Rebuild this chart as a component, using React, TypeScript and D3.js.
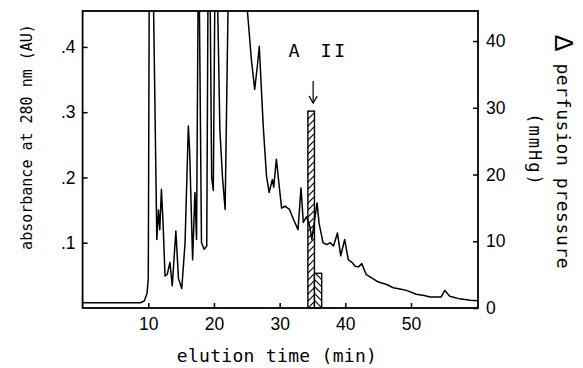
import React, { useRef, useEffect } from 'react';
import * as d3 from 'd3';

// elution trace (time in min, absorbance in AU; 0.5 = off scale)
const elutionTime = [
  0, 8.8, 9.4, 9.8, 10.0, 10.15, 10.75, 11.3, 11.55, 11.75, 12.0, 12.25, 12.55, 12.9, 13.3,
  13.65, 14.2, 14.6, 15.1, 15.6, 16.1, 16.3, 16.75, 17.1, 17.35, 17.6, 17.75, 18.1, 18.5,
  18.9, 19.1, 19.4, 19.65, 19.9, 20.15, 20.5, 20.9, 21.3, 21.7, 22.2, 24.7, 25.2, 25.7,
  26.2, 26.6, 26.9, 27.1, 27.5, 28.0, 28.4, 28.9, 29.1, 29.5, 29.9, 30.3, 30.8, 31.5,
  32.1, 32.8, 33.25, 33.6, 34.1, 34.6, 34.9, 35.4, 35.7, 36.0, 36.6, 37.2, 37.7, 38.2,
  38.8, 39.3, 39.9, 40.45, 41.0, 41.5, 42.0, 42.5, 43.2, 44.0, 44.8, 45.3, 46.3, 47.3,
  48.3, 49.3, 50.8, 52.0, 52.9, 54.6, 55.15, 55.9, 57.4, 59.0, 60.2
];
const absorbance = [
  0.008, 0.008, 0.011, 0.022, 0.045, 0.5, 0.5, 0.105, 0.15, 0.12, 0.182, 0.13, 0.049, 0.052, 0.07,
  0.034, 0.118, 0.045, 0.03, 0.1, 0.279, 0.24, 0.074, 0.177, 0.105, 0.5, 0.5, 0.1, 0.09,
  0.095, 0.5, 0.5, 0.2, 0.18, 0.5, 0.5, 0.273, 0.2, 0.151, 0.5, 0.5, 0.442, 0.38,
  0.335, 0.37, 0.401, 0.36, 0.279, 0.202, 0.177, 0.197, 0.185, 0.228, 0.19, 0.153, 0.156, 0.151,
  0.136, 0.12, 0.184, 0.131, 0.14, 0.125, 0.105, 0.14, 0.161, 0.13, 0.1, 0.097, 0.1, 0.095,
  0.115, 0.08, 0.105, 0.074, 0.07, 0.064, 0.063, 0.068, 0.051, 0.046, 0.041, 0.039, 0.036, 0.031,
  0.029, 0.027, 0.021, 0.019, 0.017, 0.017, 0.027, 0.018, 0.014, 0.012, 0.011
];

// perfusion pressure response (bars)
const pressureStart = [34.3, 35.3];
const pressureEnd = [35.3, 36.4];
const pressureValue = [29.5, 5.2];
const pressureHatch = ['hatchUp', 'hatchDown'];

const xTicks = [10, 20, 30, 40, 50];
const leftTicks = [0.1, 0.2, 0.3, 0.4];
const rightTicks = [0, 10, 20, 30, 40];

const markerLabel = ['A', 'II'];
const markerTime = 35.1;

export default function App() {
  const svgRef = useRef<SVGSVGElement>(null);

  useEffect(() => {
    const svg = d3.select(svgRef.current);
    svg.selectAll('.chart').remove();

    const w = 583;
    const h = 368;
    const margin = { top: 11, right: 105, bottom: 60, left: 82.6 };
    const tickFont = '"Liberation Sans", Arial, sans-serif';
    const monoFont = '"DejaVu Sans Mono", "Liberation Mono", monospace';

    const x = d3.scaleLinear().domain([0, 60.2]).range([margin.left, w - margin.right]);
    const yL = d3.scaleLinear().domain([0, 0.455]).range([h - margin.bottom, margin.top]);
    const yR = d3.scaleLinear().domain([0, 44.5]).range([h - margin.bottom, margin.top]);

    const g = svg.append('g').attr('class', 'chart');

    g.append('clipPath')
      .attr('id', 'plotClip')
      .append('rect')
      .attr('x', margin.left)
      .attr('y', margin.top)
      .attr('width', w - margin.left - margin.right)
      .attr('height', h - margin.top - margin.bottom);

    // bars
    g.selectAll('rect.bar')
      .data(pressureValue)
      .enter()
      .append('rect')
      .attr('class', 'bar')
      .attr('x', (d, i) => x(pressureStart[i]))
      .attr('width', (d, i) => x(pressureEnd[i]) - x(pressureStart[i]))
      .attr('y', d => yR(d))
      .attr('height', d => yR(0) - yR(d))
      .attr('fill', (d, i) => `url(#${pressureHatch[i]})`)
      .attr('stroke', 'black')
      .attr('stroke-width', 1.4);

    // trace
    const line = d3.line<number>()
      .x((d, i) => x(elutionTime[i]))
      .y(d => yL(d));

    g.append('path')
      .datum(absorbance)
      .attr('clip-path', 'url(#plotClip)')
      .attr('fill', 'none')
      .attr('stroke', 'black')
      .attr('stroke-width', 1.5)
      .attr('stroke-linejoin', 'round')
      .attr('d', line);

    // frame
    g.append('rect')
      .attr('x', margin.left)
      .attr('y', margin.top)
      .attr('width', w - margin.left - margin.right)
      .attr('height', h - margin.top - margin.bottom)
      .attr('fill', 'none')
      .attr('stroke', 'black')
      .attr('stroke-width', 1.8);

    // axes
    const xAxis = g.append('g')
      .attr('transform', `translate(0, ${h - margin.bottom})`)
      .call(d3.axisBottom(x).tickValues(xTicks).tickSizeInner(-5).tickSizeOuter(0).tickPadding(10));

    const leftAxis = g.append('g')
      .attr('transform', `translate(${margin.left}, 0)`)
      .call(d3.axisLeft(yL).tickValues(leftTicks).tickSizeInner(-5).tickSizeOuter(0).tickPadding(7)
        .tickFormat(d => '.' + Math.round(+d * 10)));

    const rightAxis = g.append('g')
      .attr('transform', `translate(${w - margin.right}, 0)`)
      .call(d3.axisRight(yR).tickValues(rightTicks).tickSizeInner(-5).tickSizeOuter(0).tickPadding(8));

    [xAxis, leftAxis, rightAxis].forEach(a => {
      a.select('.domain').remove();
      a.selectAll('line').attr('stroke-width', 1.5);
      a.selectAll('text')
        .attr('font-family', tickFont)
        .attr('font-size', '17.5px')
        .attr('fill', 'black');
    });

    // A II marker
    const ax = x(markerTime);
    const tipY = yR(pressureValue[0]) - 8;
    g.append('line')
      .attr('x1', ax).attr('x2', ax)
      .attr('y1', tipY - 22).attr('y2', tipY)
      .attr('stroke', 'black').attr('stroke-width', 1.2);
    g.append('path')
      .attr('d', `M${ax - 4},${tipY - 7} L${ax},${tipY} L${ax + 4},${tipY - 7}`)
      .attr('fill', 'none').attr('stroke', 'black').attr('stroke-width', 1.2);
    g.append('text')
      .attr('x', ax - 19)
      .attr('y', 57)
      .attr('text-anchor', 'middle')
      .attr('font-family', monoFont)
      .attr('font-size', '18.5px')
      .text(markerLabel[0]);
    g.append('text')
      .attr('x', ax + 21)
      .attr('y', 57)
      .attr('text-anchor', 'middle')
      .attr('font-family', monoFont)
      .attr('font-size', '18.5px')
      .attr('letter-spacing', '2.5px')
      .text(markerLabel[1]);

    // axis titles
    g.append('text')
      .attr('x', 277)
      .attr('y', 355)
      .attr('text-anchor', 'middle')
      .attr('dominant-baseline', 'central')
      .attr('font-family', monoFont)
      .attr('font-size', '18px')
      .attr('letter-spacing', '0.3px')
      .text('elution time (min)');

    g.append('text')
      .attr('transform', 'translate(27, 137) rotate(-90)')
      .attr('text-anchor', 'middle')
      .attr('dominant-baseline', 'central')
      .attr('font-family', monoFont)
      .attr('font-size', '15px')
      .text('absorbance at 280 nm (AU)');

    const rt = g.append('g').attr('transform', 'translate(564, 152) rotate(90)');
    const main = rt.append('text')
      .attr('text-anchor', 'middle')
      .attr('dominant-baseline', 'central')
      .attr('font-family', monoFont)
      .attr('font-size', '18px')
      .attr('letter-spacing', '0.6px');
    main.append('tspan').attr('font-size', '25px').attr('font-family', tickFont).text('\u0394');
    main.append('tspan').text(' perfusion pressure');
    rt.append('text')
      .attr('x', -2)
      .attr('y', 29)
      .attr('text-anchor', 'middle')
      .attr('dominant-baseline', 'central')
      .attr('font-family', monoFont)
      .attr('font-size', '17px')
      .attr('letter-spacing', '2px')
      .text('(mmHg)');
  }, []);

  return (
    <svg ref={svgRef} width={583} height={368}
      style={{ position: 'absolute', left: 0, top: 0, background: 'white' }}>
      <defs>
        <pattern id="hatchUp" patternUnits="userSpaceOnUse" width={7} height={7}>
          <rect width={7} height={7} fill="white" />
          <path d="M0,7 L7,0 M-1,1 L1,-1 M6,8 L8,6" stroke="black" strokeWidth={1.2} />
        </pattern>
        <pattern id="hatchDown" patternUnits="userSpaceOnUse" width={7} height={7}>
          <rect width={7} height={7} fill="white" />
          <path d="M0,0 L7,7 M-1,6 L1,8 M6,-1 L8,1" stroke="black" strokeWidth={1.2} />
        </pattern>
      </defs>
    </svg>
  );
}
